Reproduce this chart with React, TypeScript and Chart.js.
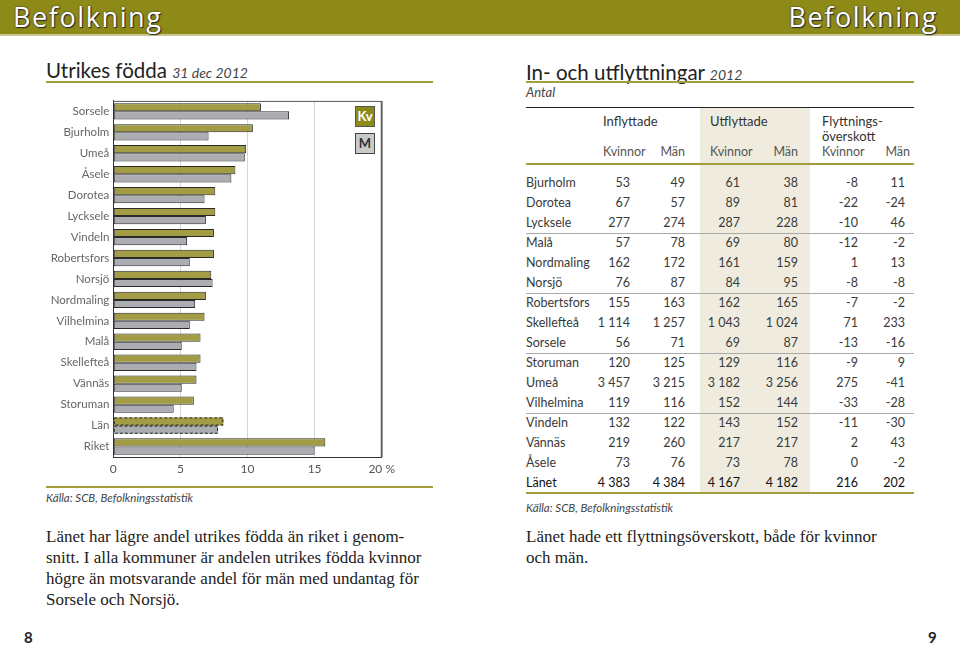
import React, { useEffect, useRef } from 'react';
import { Chart, registerables } from 'chart.js';

Chart.register(...registerables);

// ---- Bar chart data (Utrikes födda, %) ----
const categories = ['Sorsele', 'Bjurholm', 'Umeå', 'Åsele', 'Dorotea', 'Lycksele', 'Vindeln', 'Robertsfors', 'Norsjö', 'Nordmaling', 'Vilhelmina', 'Malå', 'Skellefteå', 'Vännäs', 'Storuman', 'Län', 'Riket'];
const kvValues = [11.0, 10.4, 9.9, 9.1, 7.6, 7.6, 7.5, 7.5, 7.3, 6.9, 6.8, 6.5, 6.5, 6.2, 6.0, 8.2, 15.8];
const mValues = [13.1, 7.1, 9.8, 8.8, 6.8, 6.9, 5.5, 5.7, 7.4, 6.1, 5.7, 5.1, 6.2, 5.1, 4.5, 7.8, 15.0];
const xTickValues = [0, 5, 10, 15, 20];
const dashedCategory = 'Län';

// ---- Table data (In- och utflyttningar 2012) ----
const tableNames = ['Bjurholm', 'Dorotea', 'Lycksele', 'Malå', 'Nordmaling', 'Norsjö', 'Robertsfors', 'Skellefteå', 'Sorsele', 'Storuman', 'Umeå', 'Vilhelmina', 'Vindeln', 'Vännäs', 'Åsele', 'Länet'];
const inKvinnor = [53, 67, 277, 57, 162, 76, 155, 1114, 56, 120, 3457, 119, 132, 219, 73, 4383];
const inMan = [49, 57, 274, 78, 172, 87, 163, 1257, 71, 125, 3215, 116, 122, 260, 76, 4384];
const utKvinnor = [61, 89, 287, 69, 161, 84, 162, 1043, 69, 129, 3182, 152, 143, 217, 73, 4167];
const utMan = [38, 81, 228, 80, 159, 95, 165, 1024, 87, 116, 3256, 144, 152, 217, 78, 4182];
const netKvinnor = [-8, -22, -10, -12, 1, -8, -7, 71, -13, -9, 275, -33, -11, 2, 0, 216];
const netMan = [11, -24, 46, -2, 13, -8, -2, 233, -16, 9, -41, -28, -30, 43, -2, 202];

const SANS = 'Lato, "Noto Sans", sans-serif';
const SERIF = '"Liberation Serif", "DejaVu Serif", serif';
const OLIVE = '#8d8a18';
const OLIVE_LINE = '#a29e3c';
const KV_COLOR = '#a29d45';
const M_COLOR = '#acadb2';

const fmt = (n: number) => {
  const s = Math.abs(n).toString().replace(/\B(?=(\d{3})+(?!\d))/g, '\u00a0');
  return (n < 0 ? '-' : '') + s;
};

const frameDashPlugin = {
  id: 'frameDash',
  afterDatasetsDraw(chart: any) {
    const ctx = chart.ctx;
    const idx = categories.indexOf(dashedCategory);
    ctx.save();
    chart.data.datasets.forEach((_: any, di: number) => {
      const meta = chart.getDatasetMeta(di);
      const el = meta.data[idx];
      if (!el) return;
      const p = el.getProps(['x', 'y', 'base', 'height'], true);
      ctx.setLineDash([3, 2]);
      ctx.lineWidth = 1;
      ctx.strokeStyle = '#222';
      ctx.strokeRect(p.base + 0.5, p.y - p.height / 2 + 0.5, p.x - p.base - 1, p.height - 1);
    });
    ctx.restore();
  },
  afterDraw(chart: any) {
    const { ctx, chartArea } = chart;
    ctx.save();
    ctx.setLineDash([]);
    ctx.strokeStyle = '#555';
    ctx.lineWidth = 1;
    ctx.beginPath();
    ctx.moveTo(chartArea.left, chartArea.top + 0.5);
    ctx.lineTo(chartArea.right, chartArea.top + 0.5);
    ctx.stroke();
    ctx.lineWidth = 2;
    ctx.strokeStyle = '#666';
    ctx.beginPath();
    ctx.moveTo(chartArea.right, chartArea.top);
    ctx.lineTo(chartArea.right, chartArea.bottom);
    ctx.stroke();
    ctx.restore();
  },
};

function BarChart() {
  const ref = useRef<HTMLCanvasElement | null>(null);
  useEffect(() => {
    if (!ref.current) return;
    const idx = categories.indexOf(dashedCategory);
    const chart = new Chart(ref.current, {
      type: 'bar',
      data: {
        labels: categories,
        datasets: [
          {
            label: 'Kv',
            data: kvValues,
            backgroundColor: KV_COLOR,
            borderColor: '#2a2a2a',
            borderWidth: (c: any) => (c.dataIndex === idx ? 0 : 1),
            borderSkipped: false,
          },
          {
            label: 'M',
            data: mValues,
            backgroundColor: M_COLOR,
            borderColor: '#2a2a2a',
            borderWidth: (c: any) => (c.dataIndex === idx ? 0 : 1),
            borderSkipped: false,
          },
        ],
      },
      options: {
        indexAxis: 'y',
        animation: false,
        responsive: false,
        maintainAspectRatio: false,
        categoryPercentage: 0.78,
        barPercentage: 1,
        layout: { padding: { top: 7, right: 13.3, left: 0, bottom: 0 } },
        plugins: { legend: { display: false }, tooltip: { enabled: false } },
        scales: {
          x: {
            type: 'linear',
            min: 0,
            max: 20,
            afterBuildTicks: (s: any) => {
              s.ticks = xTickValues.map((v) => ({ value: v }));
            },
            afterFit: (s: any) => {
              s.height = 23;
            },
            ticks: {
              color: '#555',
              font: { family: SANS, size: 12 },
              padding: 5,
              maxRotation: 0,
              callback: (v: any) => (v === 20 ? '20 %' : String(v)),
            },
            grid: { color: '#d6d6d6', drawTicks: false, tickLength: 0 },
            border: { display: true, color: '#333', width: 1 },
          },
          y: {
            type: 'category',
            afterFit: (s: any) => {
              s.width = 73.3;
            },
            ticks: {
              color: '#666',
              font: { family: SANS, size: 11.5 },
              padding: 4,
              autoSkip: false,
            },
            grid: { display: false, drawTicks: false, tickLength: 0 },
            border: { display: true, color: '#333', width: 1 },
          },
        },
      } as any,
      plugins: [frameDashPlugin],
    });
    return () => chart.destroy();
  }, []);
  return <canvas ref={ref} width={360} height={390} style={{ display: 'block', width: 360, height: 390 }} />;
}

const abs = (left: number, top: number, extra: React.CSSProperties = {}): React.CSSProperties => ({
  position: 'absolute',
  left,
  top,
  whiteSpace: 'nowrap',
  ...extra,
});

function HLine({ x1, x2, y, h, color }: { x1: number; x2: number; y: number; h: number; color: string }) {
  return <div style={{ position: 'absolute', left: x1, top: y - h / 2, width: x2 - x1, height: h, background: color }} />;
}

const numRight = [630, 685, 740, 798, 858, 905];

export default function App() {
  const leftPara = [
    'Länet har lägre andel utrikes födda än riket i genom-',
    'snitt. I alla kommuner är andelen utrikes födda kvinnor',
    'högre än motsvarande andel för män med undantag för',
    'Sorsele och Norsjö.',
  ];
  const rightPara = ['Länet hade ett flyttningsöverskott, både för kvinnor', 'och män.'];
  const cols = [inKvinnor, inMan, utKvinnor, utMan, netKvinnor, netMan];
  const rowTop = 173;
  const rowH = 20;
  const tableColor = '#3a3a3a';

  return (
    <div style={{ position: 'absolute', left: 0, top: 0, width: 960, height: 645, background: '#fff', overflow: 'hidden', fontFamily: SANS, color: '#333' }}>
      {/* Header band */}
      <div style={{ position: 'absolute', left: 0, top: 0, width: 960, height: 34, background: OLIVE, borderBottom: '2px solid #c9c690' }} />
      {['left', 'right'].map((side) => (
        <div
          key={side}
          style={{
            position: 'absolute',
            top: 0,
            height: 34,
            lineHeight: '34px',
            ...(side === 'left' ? { left: 13 } : { right: 22 }),
            fontFamily: '"Open Sans", sans-serif',
            fontSize: 27,
            letterSpacing: 1.6,
            color: '#fff',
            textShadow: '0 0 2px #333, 1px 1px 1px #222',
          }}
        >
          Befolkning
        </div>
      ))}

      {/* Left column */}
      <div style={abs(46, 56, { height: 28, lineHeight: '28px', fontSize: 20.5, color: '#222' })}>
        Utrikes födda <span style={{ fontStyle: 'italic', fontSize: 14, color: '#444' }}>31 dec 2012</span>
      </div>
      <HLine x1={46} x2={433} y={82} h={2} color={OLIVE_LINE} />

      <div style={{ position: 'absolute', left: 40, top: 90, width: 360, height: 390 }}>
        <BarChart />
      </div>
      {/* Legend boxes */}
      <div style={abs(355, 106, { width: 20, height: 21, boxSizing: 'border-box', background: OLIVE, border: '1px solid #555', color: '#fff', fontWeight: 700, fontSize: 13, lineHeight: '19px', textAlign: 'center' })}>Kv</div>
      <div style={abs(355, 133, { width: 20, height: 21, boxSizing: 'border-box', background: '#cacaca', border: '1px solid #444', color: '#333', fontWeight: 700, fontSize: 13, lineHeight: '19px', textAlign: 'center' })}>M</div>

      <HLine x1={46} x2={433} y={487} h={2} color={OLIVE_LINE} />
      <div style={abs(46, 490, { fontSize: 11.5, fontStyle: 'italic', color: '#444', lineHeight: '16px' })}>Källa: SCB, Befolkningsstatistik</div>
      {leftPara.map((t, i) => (
        <div key={i} style={abs(46, 526 + i * 21, { fontFamily: SERIF, fontSize: 17, lineHeight: '21px', color: '#222' })}>{t}</div>
      ))}

      {/* Right column */}
      <div style={abs(526, 58, { height: 28, lineHeight: '28px', fontSize: 20.5, color: '#222' })}>
        In- och utflyttningar <span style={{ fontStyle: 'italic', fontSize: 14, color: '#444' }}>2012</span>
      </div>
      <HLine x1={526} x2={914} y={82} h={2} color={OLIVE_LINE} />
      <div style={abs(526, 84, { fontSize: 13, fontStyle: 'italic', color: '#444', lineHeight: '16px' })}>Antal</div>

      <div style={{ position: 'absolute', left: 700, top: 107, width: 110, height: 386, background: '#efecdf' }} />
      <HLine x1={526} x2={914} y={107} h={1} color="#222" />
      <div style={abs(603, 113, { fontSize: 13, lineHeight: '16px' })}>Inflyttade</div>
      <div style={abs(710, 113, { fontSize: 13, lineHeight: '16px' })}>Utflyttade</div>
      <div style={abs(822, 113, { fontSize: 13, lineHeight: '16px' })}>Flyttnings-</div>
      <div style={abs(822, 128, { fontSize: 13, lineHeight: '16px' })}>överskott</div>
      <div style={abs(603, 144, { fontSize: 12.5, lineHeight: '16px', color: '#555' })}>Kvinnor</div>
      <div style={abs(605, 144, { width: 80, textAlign: 'right', fontSize: 12.5, lineHeight: '16px', color: '#555' })}>Män</div>
      <div style={abs(710, 144, { fontSize: 12.5, lineHeight: '16px', color: '#555' })}>Kvinnor</div>
      <div style={abs(718, 144, { width: 80, textAlign: 'right', fontSize: 12.5, lineHeight: '16px', color: '#555' })}>Män</div>
      <div style={abs(822, 144, { fontSize: 12.5, lineHeight: '16px', color: '#555' })}>Kvinnor</div>
      <div style={abs(830, 144, { width: 80, textAlign: 'right', fontSize: 12.5, lineHeight: '16px', color: '#555' })}>Män</div>
      <HLine x1={526} x2={914} y={164} h={2} color={OLIVE_LINE} />

      {tableNames.map((name, i) => {
        const top = rowTop + i * rowH;
        const isTotal = i === tableNames.length - 1;
        const color = isTotal ? '#111' : tableColor;
        return (
          <React.Fragment key={name}>
            <div style={abs(526, top, { fontSize: 12.5, lineHeight: `${rowH}px`, color })}>{name}</div>
            {cols.map((col, ci) => (
              <div key={ci} style={abs(numRight[ci] - 80, top, { width: 80, textAlign: 'right', fontSize: 12.5, lineHeight: `${rowH}px`, color })}>
                {fmt(col[i])}
              </div>
            ))}
            {(i + 1) % 3 === 0 && i < 14 && <HLine x1={526} x2={914} y={top + rowH} h={1} color="#aaa" />}
          </React.Fragment>
        );
      })}
      <HLine x1={526} x2={914} y={493} h={2} color={OLIVE_LINE} />
      <div style={abs(526, 500, { fontSize: 11.5, fontStyle: 'italic', color: '#444', lineHeight: '16px' })}>Källa: SCB, Befolkningsstatistik</div>
      {rightPara.map((t, i) => (
        <div key={i} style={abs(526, 526 + i * 21, { fontFamily: SERIF, fontSize: 17, lineHeight: '21px', color: '#222' })}>{t}</div>
      ))}

      {/* Page numbers */}
      <div style={abs(24, 628, { fontSize: 15, fontWeight: 700, color: '#222', lineHeight: '18px' })}>8</div>
      <div style={abs(928, 628, { fontSize: 15, fontWeight: 700, color: '#222', lineHeight: '18px' })}>9</div>
    </div>
  );
}
